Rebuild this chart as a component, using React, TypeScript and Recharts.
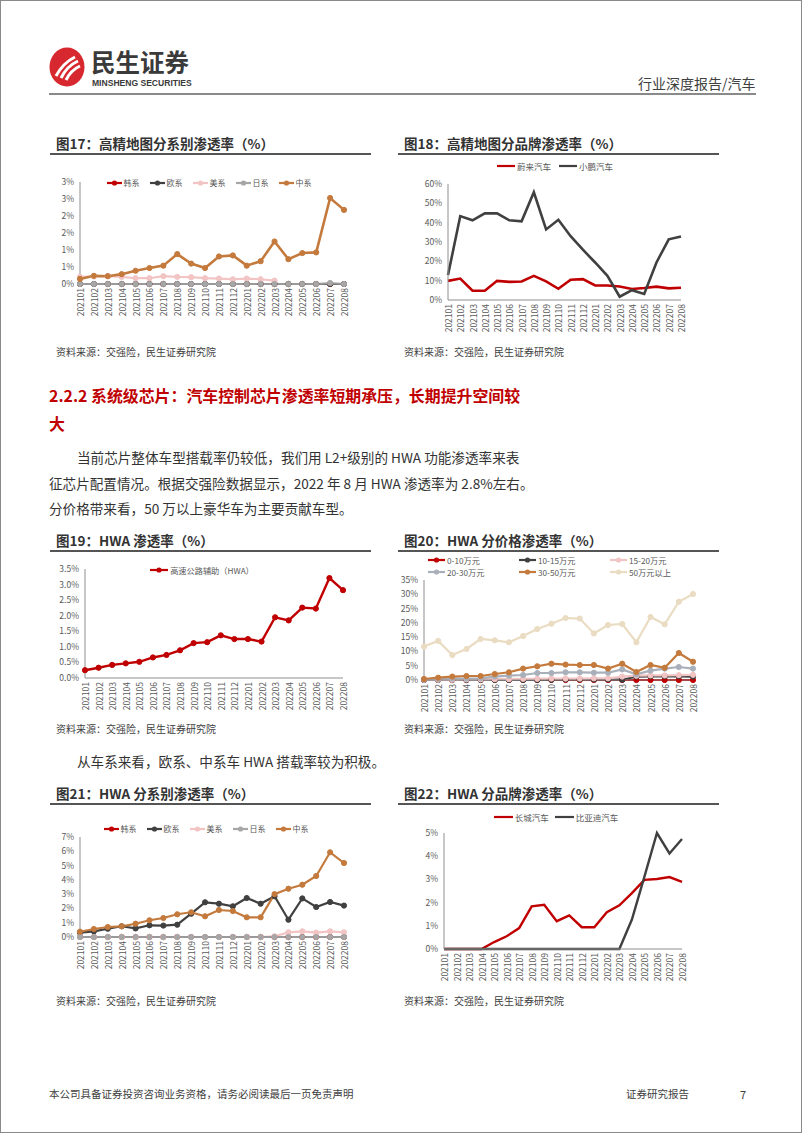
import { LineChart, Line, XAxis, YAxis, Legend } from 'recharts'

const months = [
  '202101', '202102', '202103', '202104', '202105', '202106', '202107', '202108', '202109', '202110',
  '202111', '202112', '202201', '202202', '202203', '202204', '202205', '202206', '202207', '202208',
]

// 图17 高精地图分系别渗透率 (%)
const hdKorea = [0, 0, 0, 0, 0, 0, 0, 0, 0, 0, 0, 0, 0, 0, 0, 0, 0, 0, 0, 0]
const hdEurope = [0, 0, 0, 0, 0, 0, 0, 0, 0, 0, 0, 0, 0, 0, 0, 0, 0, 0, 0, 0]
const hdUS = [0.21, 0.22, 0.23, 0.21, 0.17, 0.17, 0.23, 0.21, 0.2, 0.17, 0.16, 0.14, 0.16, 0.14, 0.1, null, null, null, null, null]
const hdJapan = [0, 0, 0, 0, 0, 0, 0, 0, 0, 0, 0, 0, 0, 0, 0, 0, 0, 0, 0.03, 0]
const hdChina = [0.15, 0.24, 0.23, 0.29, 0.39, 0.47, 0.54, 0.88, 0.6, 0.47, 0.81, 0.84, 0.54, 0.67, 1.25, 0.73, 0.91, 0.93, 2.53, 2.18]

// 图18 高精地图分品牌渗透率 (%)
const hdNio = [9.9, 11.1, 4.8, 4.8, 9.9, 9.4, 9.6, 12.5, 9.6, 5.8, 10.5, 10.8, 7.5, 7.5, 7.0, 5.7, 6.2, 6.9, 6.0, 6.3]
const hdXpeng = [12.9, 43.4, 41.2, 44.8, 44.8, 41.2, 40.7, 55.7, 36.5, 41.5, 33, 26, 19.4, 12.5, 1.7, 5.1, 3.1, 19.4, 31.4, 32.9]

// 图19 HWA 渗透率 (%)
const hwaAll = [0.25, 0.33, 0.42, 0.47, 0.52, 0.66, 0.74, 0.89, 1.12, 1.15, 1.37, 1.25, 1.25, 1.17, 1.95, 1.85, 2.26, 2.23, 3.21, 2.82]

// 图20 HWA 分价格渗透率 (%)
const p0to10 = [0, 0, 0, 0, 0, 0, 0, 0, 0, 0, 0, 0, 0, 0, 0, 0, 0, 0, 0, 0]
const p10to15 = [0, 0, 0, 0, 0, 0, 0, 0, 0, 0.1, 0.2, 0.2, 0.2, 0.2, 0.1, 1.2, 1.3, 1.3, 1.3, 1.2]
const p15to20 = [0.1, 0.1, 0.1, 0.2, 0.2, 0.3, 0.3, 0.4, 0.4, 0.5, 0.5, 0.5, 0.6, 0.6, 1.2, 1.5, 1.6, 1.6, 1.7, 1.8]
const p20to30 = [0.2, 0.35, 0.5, 0.5, 0.6, 1.2, 1.5, 1.75, 2.45, 2.45, 2.7, 2.7, 2.55, 2.55, 3.7, 2.0, 3.3, 4.0, 4.55, 4.0]
const p30to50 = [0.35, 0.8, 1.2, 1.4, 1.4, 2.1, 2.7, 4.0, 4.8, 5.7, 5.4, 5.25, 5.25, 4.0, 5.7, 2.8, 5.25, 4.3, 9.45, 6.4]
const p50plus = [11.7, 13.7, 8.75, 10.85, 14.35, 13.9, 13.2, 15.4, 17.85, 19.7, 21.7, 21.5, 16.3, 19.25, 19.6, 13.2, 22.05, 19.5, 27.4, 30.1]

// 图21 HWA 分系别渗透率 (%)
const hwaKorea = [0, 0, 0, 0, 0, 0, 0, 0, 0, 0, 0, 0, 0, 0, 0, 0, 0, 0, 0, 0]
const hwaEurope = [0.3, 0.4, 0.58, 0.75, 0.6, 0.82, 0.8, 0.86, 1.63, 2.43, 2.33, 2.15, 2.73, 2.33, 2.85, 1.21, 2.7, 2.1, 2.45, 2.2]
const hwaUS = [0, 0, 0, 0, 0, 0, 0, 0, 0, 0, 0, 0, 0, 0, 0.05, 0.33, 0.4, 0.3, 0.4, 0.33]
const hwaJapan = [0, 0, 0, 0, 0, 0, 0, 0, 0, 0, 0, 0, 0, 0, 0, 0, 0, 0, 0, 0]
const hwaChina = [0.37, 0.56, 0.7, 0.75, 0.93, 1.17, 1.33, 1.59, 1.73, 1.45, 1.89, 1.82, 1.38, 1.38, 3.0, 3.38, 3.66, 4.27, 5.93, 5.18]

// 图22 HWA 分品牌渗透率 (%)
const hwaGwm = [0, 0, 0, 0, 0.3, 0.55, 0.9, 1.84, 1.91, 1.2, 1.45, 0.94, 0.94, 1.59, 1.88, 2.41, 2.98, 3.02, 3.1, 2.89]
const hwaByd = [0, 0, 0, 0, 0, 0, 0, 0, 0, 0, 0, 0, 0, 0, 0, 1.27, 3.12, 5.0, 4.12, 4.74]

const RED = '#C00000'
const DARK = '#404040'
const PINK = '#F2C4C4'
const GRAY = '#A6A6A6'
const BROWN = '#C47A3C'
const TICK = '#595959'
const AXIS = '#8E8E8E'
const CJK = '"Noto Sans CJK SC", sans-serif'

type Series = { key: string; name: string; color: string; data: (number | null)[]; dot?: boolean; w?: number }

function MonthTick({ x, y, payload }: any) {
  return (
    <g transform={`translate(${x},${y + 4})`}>
      <text transform="rotate(-90)" textAnchor="end" dominantBaseline="central" fontSize={8.5} fill={TICK} fontFamily={CJK}>
        {payload.value}
      </text>
    </g>
  )
}

function LegendBox({ items, iw, gap, columns, font }: { items: Series[]; iw: number; gap: number; columns?: number; font: number }) {
  const layout: any = columns
    ? { display: 'grid', gridTemplateColumns: `repeat(${columns}, 1fr)` }
    : { display: 'flex', justifyContent: 'center', columnGap: gap }
  return (
    <div style={{ ...layout, fontSize: font, color: TICK, lineHeight: '12px', fontFamily: CJK }}>
      {items.map((s) => (
        <span key={s.key} style={{ display: 'inline-flex', alignItems: 'center', whiteSpace: 'nowrap' }}>
          <svg width={iw} height={8}>
            <line x1={0} x2={iw} y1={4} y2={4} stroke={s.color} strokeWidth={2.2} />
            {s.dot && <circle cx={iw / 2} cy={4} r={2.6} fill={s.color} />}
          </svg>
          <span style={{ marginLeft: 2 }}>{s.name}</span>
        </span>
      ))}
    </div>
  )
}

type BoxProps = {
  left: number; top: number; width: number; height: number
  mt: number; mr: number; yw: number; xh: number
  ticks: number[]; fmt: (v: number) => string; series: Series[]
  lg: { top: number; left: number; width: number; iw: number; gap: number; columns?: number; font?: number }
}

function ChartBox(p: BoxProps) {
  const rows = months.map((m, i) => {
    const r: any = { month: m }
    p.series.forEach((s) => { r[s.key] = s.data[i] })
    return r
  })
  return (
    <div style={{ position: 'absolute', left: p.left, top: p.top }}>
      <LineChart width={p.width} height={p.height} data={rows} margin={{ top: p.mt, right: p.mr, left: 0, bottom: 0 }}>
        <XAxis dataKey="month" interval={0} tick={<MonthTick />} tickLine={false} tickSize={0} tickMargin={0}
          height={p.xh} axisLine={{ stroke: AXIS }} />
        <YAxis width={p.yw} domain={[0, p.ticks[p.ticks.length - 1]]} ticks={p.ticks} tickFormatter={p.fmt}
          tickLine={false} tickSize={0} tickMargin={6} axisLine={{ stroke: AXIS }}
          tick={{ fontSize: 8.5, fill: TICK, fontFamily: CJK }} interval={0} />
        <Legend verticalAlign="middle" align="center" layout="horizontal"
          wrapperStyle={{ top: p.lg.top, left: p.lg.left, width: p.lg.width }}
          content={() => <LegendBox items={p.series} iw={p.lg.iw} gap={p.lg.gap} columns={p.lg.columns} font={p.lg.font ?? 8.5} />} />
        {p.series.map((s) => (
          <Line key={s.key} type="linear" dataKey={s.key} name={s.name} stroke={s.color} strokeWidth={s.w ?? 2.2}
            dot={s.dot ? { r: 2.6, fill: s.color, stroke: s.color, strokeWidth: 1 } : false}
            activeDot={false} isAnimationActive={false} />
        ))}
      </LineChart>
    </div>
  )
}

function Txt({ x, y, size, color = '#333', bold, children, lh }: any) {
  const h = lh ?? size + 8
  return (
    <div style={{ position: 'absolute', left: x, top: y - h / 2, fontSize: size, lineHeight: `${h}px`, color,
      fontWeight: bold ? 700 : 400, whiteSpace: 'nowrap' }}>
      {children}
    </div>
  )
}

function FigTitle({ x, y, text }: { x: number; y: number; text: string }) {
  return (
    <>
      <Txt x={x + 6} y={y} size={13.5} bold color="#333">{text}</Txt>
      <div style={{ position: 'absolute', left: x, top: y + 9, width: 321, height: 1.5, background: '#555' }} />
    </>
  )
}

const pct0 = (v: number) => `${Math.round(v)}%`
const pct1 = (v: number) => `${v.toFixed(1)}%`

export default function App() {
  const s17: Series[] = [
    { key: 'kr', name: '韩系', color: RED, data: hdKorea, dot: true },
    { key: 'eu', name: '欧系', color: DARK, data: hdEurope, dot: true },
    { key: 'us', name: '美系', color: PINK, data: hdUS, dot: true },
    { key: 'jp', name: '日系', color: GRAY, data: hdJapan, dot: true },
    { key: 'cn', name: '中系', color: BROWN, data: hdChina, dot: true, w: 2.6 },
  ]
  const s18: Series[] = [
    { key: 'nio', name: '蔚来汽车', color: RED, data: hdNio, w: 2.6 },
    { key: 'xp', name: '小鹏汽车', color: DARK, data: hdXpeng, w: 2.6 },
  ]
  const s19: Series[] = [{ key: 'hwa', name: '高速公路辅助（HWA）', color: RED, data: hwaAll, dot: true, w: 2.4 }]
  const s20: Series[] = [
    { key: 'a', name: '0-10万元', color: RED, data: p0to10, dot: true },
    { key: 'b', name: '10-15万元', color: DARK, data: p10to15, dot: true },
    { key: 'c', name: '15-20万元', color: PINK, data: p15to20, dot: true },
    { key: 'd', name: '20-30万元', color: '#A9B0BA', data: p20to30, dot: true },
    { key: 'e', name: '30-50万元', color: BROWN, data: p30to50, dot: true },
    { key: 'f', name: '50万元以上', color: '#EADCC2', data: p50plus, dot: true },
  ]
  const s21: Series[] = [
    { key: 'kr', name: '韩系', color: RED, data: hwaKorea, dot: true },
    { key: 'eu', name: '欧系', color: DARK, data: hwaEurope, dot: true },
    { key: 'us', name: '美系', color: PINK, data: hwaUS, dot: true },
    { key: 'jp', name: '日系', color: GRAY, data: hwaJapan, dot: true },
    { key: 'cn', name: '中系', color: BROWN, data: hwaChina, dot: true },
  ]
  const s22: Series[] = [
    { key: 'gwm', name: '长城汽车', color: RED, data: hwaGwm, w: 2.4 },
    { key: 'byd', name: '比亚迪汽车', color: DARK, data: hwaByd, w: 2.4 },
  ]

  return (
    <div style={{ position: 'absolute', left: 0, top: 0, width: 802, height: 1133, boxSizing: 'border-box',
      border: '1px solid #8a8a8a', background: '#fff', fontFamily: CJK, overflow: 'hidden' }}>
      {/* header */}
      <svg style={{ position: 'absolute', left: 48, top: 46 }} width={38} height={40}>
        <ellipse cx={18} cy={20} rx={17.5} ry={19.5} fill="#D7282F" />
        <path d="M7 29 Q14 16 26 10" stroke="#fff" strokeWidth={3} fill="none" />
        <path d="M12 31 Q18 19 29 14" stroke="#fff" strokeWidth={3} fill="none" />
        <path d="M17 33 Q22 23 31 19" stroke="#fff" strokeWidth={3} fill="none" />
      </svg>
      <Txt x={90} y={61} size={24.5} bold color="#3a3a3a" lh={28}>民生证券</Txt>
      <div style={{ position: 'absolute', left: 91, top: 76, fontSize: 9.5, lineHeight: '11px', fontWeight: 700,
        fontFamily: '"Liberation Sans", sans-serif', color: '#3a3a3a', transform: 'scaleX(0.9)',
        transformOrigin: 'left center', whiteSpace: 'nowrap' }}>
        MINSHENG SECURITIES
      </div>
      <Txt x={637} y={82} size={14} color="#404040">行业深度报告/汽车</Txt>
      <div style={{ position: 'absolute', left: 48, top: 92, width: 707, height: 2, background: '#8a8a8a' }} />

      {/* figures 17/18 */}
      <FigTitle x={49} y={143} text="图17：高精地图分系别渗透率（%）" />
      <FigTitle x={397} y={143} text="图18：高精地图分品牌渗透率（%）" />
      <ChartBox left={50} top={165} width={300} height={158} mt={16} mr={7} yw={29} xh={40}
        ticks={[0, 0.5, 1, 1.5, 2, 2.5, 3]} fmt={pct0} series={s17}
        lg={{ top: 11, left: 0, width: 316, iw: 15, gap: 10, font: 8 }} />
      <ChartBox left={400} top={158} width={290} height={180} mt={25} mr={10} yw={47} xh={39}
        ticks={[0, 10, 20, 30, 40, 50, 60]} fmt={pct0} series={s18}
        lg={{ top: 1, left: 54, width: 200, iw: 18, gap: 8 }} />
      <Txt x={55} y={351} size={10} color="#404040">资料来源：交强险，民生证券研究院</Txt>
      <Txt x={403} y={351} size={10} color="#404040">资料来源：交强险，民生证券研究院</Txt>

      {/* section text */}
      <Txt x={48} y={395} size={15.9} bold color={RED} lh={28}>2.2.2 系统级芯片：汽车控制芯片渗透率短期承压，长期提升空间较</Txt>
      <Txt x={48} y={423} size={15.9} bold color={RED} lh={28}>大</Txt>
      <Txt x={76} y={456} size={13.6} color="#333" lh={24}>当前芯片整体车型搭载率仍较低，我们用 L2+级别的 HWA 功能渗透率来表</Txt>
      <Txt x={48} y={482} size={13.6} color="#333" lh={24}>征芯片配置情况。根据交强险数据显示，2022 年 8 月 HWA 渗透率为 2.8%左右。</Txt>
      <Txt x={48} y={507} size={13.6} color="#333" lh={24}>分价格带来看，50 万以上豪华车为主要贡献车型。</Txt>

      {/* figures 19/20 */}
      <FigTitle x={49} y={540} text="图19：HWA 渗透率（%）" />
      <FigTitle x={397} y={540} text="图20：HWA 分价格渗透率（%）" />
      <ChartBox left={50} top={555} width={300} height={158} mt={13} mr={8} yw={34} xh={36}
        ticks={[0, 0.5, 1, 1.5, 2, 2.5, 3, 3.5]} fmt={pct1} series={s19}
        lg={{ top: 8, left: 51, width: 200, iw: 18, gap: 6, font: 8.2 }} />
      <ChartBox left={400} top={545} width={300} height={173} mt={34} mr={8} yw={23} xh={39}
        ticks={[0, 5, 10, 15, 20, 25, 30, 35]} fmt={pct0} series={s20}
        lg={{ top: 8, left: 27, width: 273, iw: 17, gap: 0, columns: 3, font: 8.2 }} />
      <Txt x={55} y={728} size={10} color="#404040">资料来源：交强险，民生证券研究院</Txt>
      <Txt x={403} y={728} size={10} color="#404040">资料来源：交强险，民生证券研究院</Txt>

      <Txt x={76} y={760} size={13.6} color="#333" lh={24}>从车系来看，欧系、中系车 HWA 搭载率较为积极。</Txt>

      {/* figures 21/22 */}
      <FigTitle x={49} y={793} text="图21：HWA 分系别渗透率（%）" />
      <FigTitle x={397} y={793} text="图22：HWA 分品牌渗透率（%）" />
      <ChartBox left={50} top={820} width={300} height={157} mt={16} mr={7} yw={29} xh={41}
        ticks={[0, 1, 2, 3, 4, 5, 6, 7]} fmt={pct0} series={s21}
        lg={{ top: 2, left: 0, width: 310, iw: 15, gap: 10, font: 8 }} />
      <ChartBox left={400} top={808} width={290} height={182} mt={24} mr={9} yw={43} xh={42}
        ticks={[0, 1, 2, 3, 4, 5]} fmt={pct0} series={s22}
        lg={{ top: 2, left: 55, width: 200, iw: 19, gap: 6 }} />
      <Txt x={55} y={1000} size={10} color="#404040">资料来源：交强险，民生证券研究院</Txt>
      <Txt x={403} y={1000} size={10} color="#404040">资料来源：交强险，民生证券研究院</Txt>

      {/* footer */}
      <Txt x={48} y={1093} size={10.5} color="#404040">本公司具备证券投资咨询业务资格，请务必阅读最后一页免责声明</Txt>
      <Txt x={625} y={1093} size={10.5} color="#404040">证券研究报告</Txt>
      <Txt x={739} y={1093} size={11} color="#404040">7</Txt>
    </div>
  )
}
